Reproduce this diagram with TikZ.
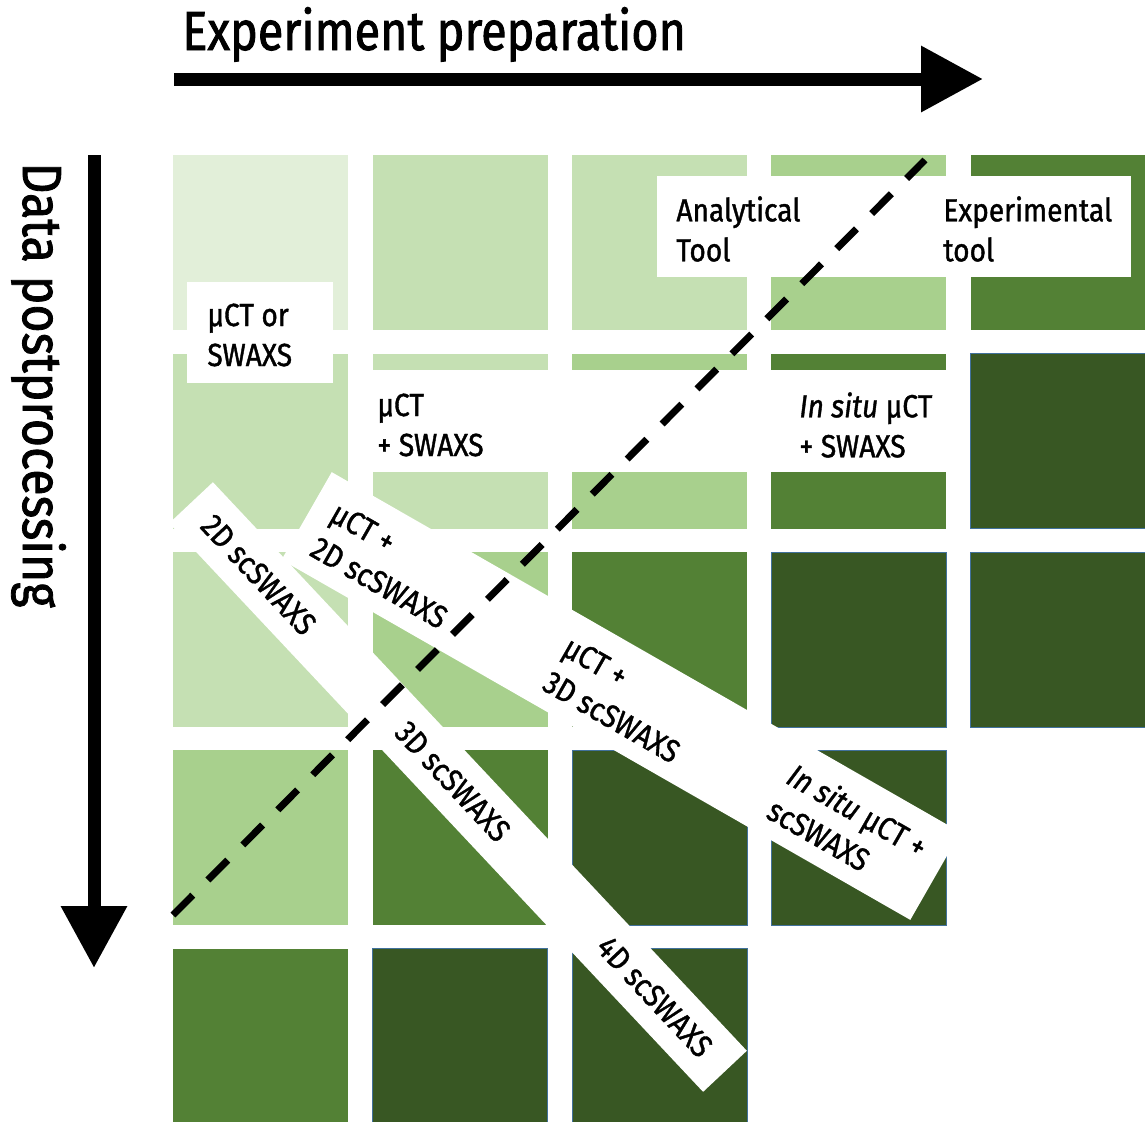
\documentclass[tikz,border=0pt]{standalone}
\usepackage{fontspec}
\setmainfont{Fira Sans}[FakeStretch=0.88,FakeBold=1.2]
\newfontfamily\headfont{Fira Sans}[FakeStretch=0.85,FakeBold=1.5]
\newfontfamily\sidefont{Fira Sans}[FakeStretch=0.88,FakeBold=1.5]
\usetikzlibrary{arrows.meta,positioning}

\definecolor{g1}{HTML}{E2EFD9}
\definecolor{g2}{HTML}{C5E0B3}
\definecolor{g3}{HTML}{A8D08D}
\definecolor{g4}{HTML}{538135}
\definecolor{g5}{HTML}{385723}
\definecolor{edge}{HTML}{41719C}

\begin{document}
\begin{tikzpicture}[x=0.5pt,y=-0.5pt,node distance=11.25pt and 11.75pt]
        \tikzstyle{cell}=[rectangle,anchor=north west,inner sep=0,minimum width=87.5pt,minimum height=87.5pt]
        \tikzstyle{dark}=[cell,fill=g5,draw=edge,line width=0.4pt]
        \tikzstyle{band}=[rectangle,fill=white,inner sep=0]
        \tikzstyle{whitebox}=[rectangle,fill=white,inner sep=0]
        \tikzstyle{lbl}=[align=left,inner sep=0,font=\fontsize{16}{20}\selectfont]
        \tikzstyle{heading}=[inner sep=0,anchor=base west,font=\headfont\fontsize{27.5}{33}\selectfont]
        \tikzstyle{axisarrow}=[line width=6.5pt,-{Triangle[length=31pt,width=31.5pt]}]
        \tikzstyle{divider}=[line width=3.5pt,dash pattern=on 14pt off 10.75pt]

        \useasboundingbox (0,0) rectangle (1145,1121);

        % grid
        \node[cell,fill=g1](c11) at (173,155){};
        \node[cell,fill=g2,right=of c11](c12){};
        \node[cell,fill=g2,right=of c12](c13){};
        \node[cell,fill=g3,right=of c13](c14){};
        \node[cell,fill=g4,right=of c14](c15){};

        \node[cell,fill=g2,below=of c11](c21){};
        \node[cell,fill=g2,right=of c21](c22){};
        \node[cell,fill=g3,right=of c22](c23){};
        \node[cell,fill=g4,right=of c23](c24){};
        \node[dark,right=of c24](c25){};

        \node[cell,fill=g2,below=of c21](c31){};
        \node[cell,fill=g3,right=of c31](c32){};
        \node[cell,fill=g4,right=of c32](c33){};
        \node[dark,right=of c33](c34){};
        \node[dark,right=of c34](c35){};

        \node[cell,fill=g3,below=of c31](c41){};
        \node[cell,fill=g4,right=of c41](c42){};
        \node[dark,right=of c42](c43){};
        \node[dark,right=of c43](c44){};

        \node[cell,fill=g4,below=of c41](c51){};
        \node[dark,right=of c51](c52){};
        \node[dark,right=of c52](c53){};

        % white bands
        \node[band,rotate=-46.8,minimum width=390pt,minimum height=30pt](b45) at (458,787){};
        \node[band,rotate=-29.8,minimum width=362.3pt,minimum height=50.5pt](b30) at (621,696){};

        % white boxes
        \node[whitebox,minimum width=73pt,minimum height=50.5pt](bx1) at (260,332.5){};
        \node[whitebox,minimum width=297.5pt,minimum height=51pt](bx2) at (657.5,421){};
        \node[whitebox,minimum width=237pt,minimum height=50.5pt](bx3) at (894,226.5){};

        \node[lbl,anchor=west](ctor) at (207,335){µCT or\\SWAXS};
        \node[lbl,anchor=west](ctsw) at (377,425){µCT\\+ SWAXS};
        \node[lbl,anchor=west](insw) at (799,425){\textit{In situ} µCT\\+ SWAXS};
        \node[lbl,anchor=west](ana) at (676,229){Analytical\\Tool};
        \node[lbl,anchor=west](expt) at (943,229){Experimental\\tool};

        \node[lbl,rotate=-46.8](t2d) at (258.8,574.7){2D scSWAXS};
        \node[lbl,rotate=-46.8](t3d) at (452.9,781.4){3D scSWAXS};
        \node[lbl,rotate=-46.8](t4d) at (654.8,996.5){4D scSWAXS};
        \node[lbl,rotate=-29.8](tct2) at (389.2,565.3){µCT +\\2D scSWAXS};
        \node[lbl,rotate=-29.8](tct3) at (621.7,699.6){µCT +\\3D scSWAXS};
        \node[lbl,rotate=-29.8](tis) at (847.9,827.5){\textit{In situ} µCT +\\scSWAXS};

        % split line
        \coordinate (d0) at (173,915);
        \coordinate (d1) at (925,160);
        \draw[divider](d0) -- (d1);

        % axes
        \coordinate (h0) at (174,79);
        \coordinate (h1) at (983,79);
        \coordinate (v0) at (94,155);
        \coordinate (v1) at (94,968);
        \draw[axisarrow](h0) -- (h1);
        \draw[axisarrow](v0) -- (v1);

        \node[heading](prep) at (182,50){Experiment preparation};
        \node[heading,font=\sidefont\fontsize{27.5}{33}\selectfont,rotate=-90](post) at (23,162){Data postprocessing};
\end{tikzpicture}
\end{document}
